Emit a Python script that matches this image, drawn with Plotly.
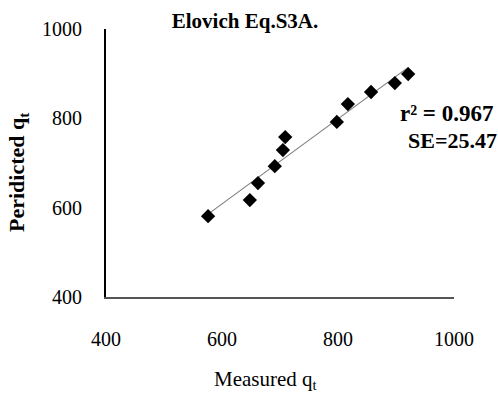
import numpy as np
import plotly.graph_objects as go

measured = [576, 648, 662, 691, 705, 709, 798, 817, 857, 898, 921]
predicted = [581, 617, 655, 693, 729, 758, 792, 832, 859, 879, 899]
x_ticks = [400, 600, 800, 1000]
y_ticks = [400, 600, 800, 1000]
title_text = "Elovich Eq.S3A."
x_title = "Measured q<sub>t</sub>"
y_title = "Peridicted q<sub>t</sub>"
r2_text = "r² = 0.967"
se_text = "SE=25.47"

slope, intercept = np.polyfit(measured, predicted, 1)
line_x = [min(measured), max(measured)]
line_y = [slope * v + intercept for v in line_x]

font = "Liberation Serif"
L, T, W, H = 106, 29, 348, 268


def px(xp):
    return (xp - L) / W


def py(yp):
    return (T + H - yp) / H


fig = go.Figure()
fig.add_trace(go.Scatter(x=line_x, y=line_y, mode="lines",
                         line=dict(color="#808080", width=1.2), showlegend=False))
fig.add_trace(go.Scatter(x=measured, y=predicted, mode="markers",
                         marker=dict(symbol="diamond", size=11, color="black"),
                         showlegend=False))

fig.update_layout(
    width=498, height=394,
    margin=dict(l=L, r=498 - L - W, t=T, b=394 - T - H, autoexpand=False),
    paper_bgcolor="white", plot_bgcolor="white",
    font=dict(family=font, color="black"),
    title=dict(text="<b>" + title_text + "</b>", x=px(245), xref="paper",
               y=1 - 21 / 394, yref="container",
               xanchor="center", yanchor="middle", font=dict(size=21)),
    xaxis=dict(range=[400, 1000], tickvals=x_ticks, ticks="", showgrid=False,
               zeroline=False, showline=True, linecolor="#555555", linewidth=2,
               tickfont=dict(size=20, family=font), ticklabelstandoff=23,
               automargin=False),
    yaxis=dict(range=[400, 1000], tickvals=y_ticks, ticks="", showgrid=False,
               zeroline=False, showline=True, linecolor="black", linewidth=2,
               tickfont=dict(size=20, family=font), ticklabelstandoff=18,
               automargin=False),
    annotations=[
        dict(text=x_title, x=px(265), y=py(380), xref="paper", yref="paper",
             xanchor="center", yanchor="middle", showarrow=False, font=dict(size=21)),
        dict(text="<b>" + y_title + "</b>", x=px(18), y=py(172), xref="paper", yref="paper",
             xanchor="center", yanchor="middle", textangle=-90, showarrow=False,
             font=dict(size=22)),
        dict(text="<b>" + r2_text + "</b>", x=px(398), y=py(114),
             xref="paper", yref="paper", xanchor="left", yanchor="middle",
             showarrow=False, font=dict(size=23)),
        dict(text="<b>" + se_text + "</b>", x=px(406), y=py(140),
             xref="paper", yref="paper", xanchor="left", yanchor="middle",
             showarrow=False, font=dict(size=22)),
    ],
)
fig.write_html("out.html", config={"displayModeBar": False},
               post_script="document.body.style.margin='0';document.body.style.overflow='hidden';")
